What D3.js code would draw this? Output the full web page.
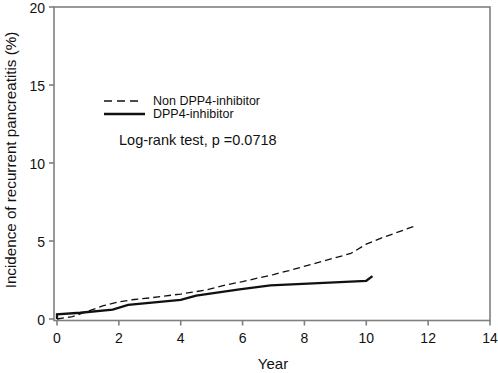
<!DOCTYPE html>
<html>
<head>
<meta charset="utf-8">
<script src="https://cdn.jsdelivr.net/npm/d3@7"></script>
<style>
  html, body { margin: 0; padding: 0; background: #fff; }
  text { font-family: Arial, "Liberation Sans", sans-serif; fill: #111; }
</style>
</head>
<body>
<div id="chart"></div>
<script>
// cumulative incidence curves (year, %)
const nonDppYears = [0, 0.5, 1, 1.5, 2, 2.5, 3, 4, 4.8, 5.5, 6, 7, 7.5, 8.4, 9.5, 10, 10.5, 11.63];
const nonDppValues = [0, 0.15, 0.5, 0.85, 1.1, 1.25, 1.35, 1.6, 1.85, 2.2, 2.4, 2.85, 3.1, 3.6, 4.2, 4.8, 5.2, 6.0];
const dppYears = [0, 0, 0.75, 1.8, 2.3, 4, 4.5, 5.9, 6.9, 10, 10.2];
const dppValues = [0, 0.3, 0.4, 0.6, 0.9, 1.22, 1.5, 1.9, 2.15, 2.45, 2.75];

const xTicks = [0, 2, 4, 6, 8, 10, 12, 14];
const yTicks = [0, 5, 10, 15, 20];
const seriesNames = ['Non DPP4-inhibitor', 'DPP4-inhibitor'];
const annotation = 'Log-rank test, p =0.0718';

const width = 498, height = 373;
const svg = d3.select('#chart').append('svg')
  .attr('width', width)
  .attr('height', height);

const x = d3.scaleLinear().domain([0, 14]).range([57, 490]);
const y = d3.scaleLinear().domain([0, 20]).range([319, 7]);

// frame (slightly offset from the zero lines, as in the original)
const frameLeft = 54, frameRight = x(14), frameTop = y(20), frameBottom = 320.5;
const axisColor = '#7f7f7f';
const frame = svg.append('g').attr('stroke', axisColor).attr('stroke-width', 1.6).attr('fill', 'none');
frame.append('rect')
  .attr('x', frameLeft).attr('y', frameTop)
  .attr('width', frameRight - frameLeft).attr('height', frameBottom - frameTop);

// y ticks
yTicks.forEach(t => {
  frame.append('line')
    .attr('x1', frameLeft - 5).attr('x2', frameLeft)
    .attr('y1', y(t)).attr('y2', y(t));
  svg.append('text')
    .attr('x', frameLeft - 9).attr('y', y(t))
    .attr('dy', '0.42em')
    .attr('text-anchor', 'end')
    .style('font-size', '14px')
    .text(t);
});

// x ticks
xTicks.forEach(t => {
  frame.append('line')
    .attr('x1', x(t)).attr('x2', x(t))
    .attr('y1', frameBottom).attr('y2', frameBottom + 5);
  svg.append('text')
    .attr('x', x(t)).attr('y', frameBottom + 22.5)
    .attr('text-anchor', 'middle')
    .style('font-size', '14px')
    .text(t);
});

// axis titles
svg.append('text')
  .attr('x', 273).attr('y', 369)
  .attr('text-anchor', 'middle')
  .style('font-size', '15px')
  .text('Year');

svg.append('text')
  .attr('transform', `translate(16, 160) rotate(-90)`)
  .attr('text-anchor', 'middle')
  .style('font-size', '15.2px')
  .text('Incidence of recurrent pancreatitis (%)');

// curves
const line = d3.line().x(d => x(d[0])).y(d => y(d[1]));
const nonDpp = d3.zip(nonDppYears, nonDppValues);
const dpp = d3.zip(dppYears, dppValues);

svg.append('path')
  .datum(nonDpp)
  .attr('d', line)
  .attr('fill', 'none')
  .attr('stroke', '#111')
  .attr('stroke-width', 1.3)
  .attr('stroke-dasharray', '7,4');

svg.append('path')
  .datum(dpp)
  .attr('d', line)
  .attr('fill', 'none')
  .attr('stroke', '#111')
  .attr('stroke-width', 2.3);

// legend
const legend = svg.append('g');
legend.append('line')
  .attr('x1', 104).attr('x2', 141).attr('y1', 101).attr('y2', 101)
  .attr('stroke', '#111').attr('stroke-width', 1.3).attr('stroke-dasharray', '8,5');
legend.append('line')
  .attr('x1', 104).attr('x2', 145).attr('y1', 114).attr('y2', 114)
  .attr('stroke', '#111').attr('stroke-width', 2.3);
legend.append('text')
  .attr('x', 153).attr('y', 101).attr('dy', '0.35em')
  .style('font-size', '12.5px')
  .text(seriesNames[0]);
legend.append('text')
  .attr('x', 153).attr('y', 114).attr('dy', '0.35em')
  .style('font-size', '12.5px')
  .text(seriesNames[1]);

svg.append('text')
  .attr('x', 119).attr('y', 140).attr('dy', '0.35em')
  .style('font-size', '14.5px')
  .text(annotation);
</script>
</body>
</html>
